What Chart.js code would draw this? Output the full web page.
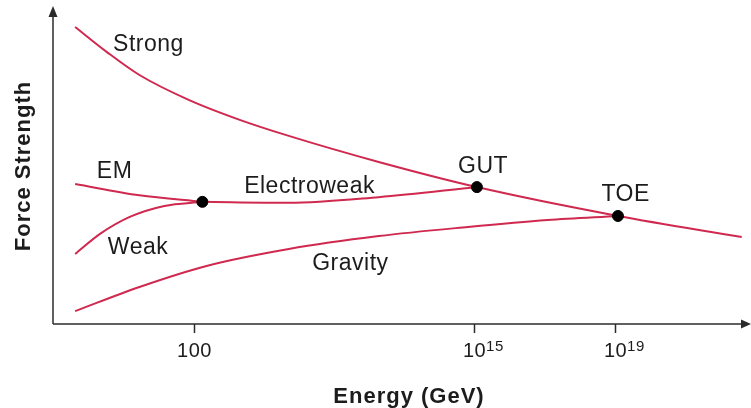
<!DOCTYPE html>
<html>
<head>
<meta charset="utf-8">
<script src="https://cdn.jsdelivr.net/npm/chart.js@4/dist/chart.umd.min.js"></script>
<style>
  html, body { margin: 0; padding: 0; background: #fff; }
  #wrap { width: 751px; height: 408px; }
</style>
</head>
<body>
<div id="wrap"><canvas id="forceChart" width="751" height="408"></canvas></div>
<script>
// Schematic positions: x = energy position along the axis (0-100), y = relative force strength (0-100)
const strongX = [3.2, 7.8, 12.5, 19.7, 26.9, 34.1, 47.1, 61.3, 81.7, 99.6];
const strongY = [94.6, 86.6, 79.3, 71.3, 65.1, 59.9, 51.6, 43.6, 34.4, 27.7];

const emX = [3.2, 12.5, 21.6];
const emY = [44.6, 41.0, 38.9];

const weakX = [3.2, 6.8, 11.1, 16.1, 21.6];
const weakY = [22.3, 28.7, 34.1, 37.6, 38.9];

const electroweakX = [21.6, 34.1, 47.1, 61.3];
const electroweakY = [38.9, 38.6, 40.4, 43.6];

const gravityX = [3.2, 12.5, 22.2, 34.1, 47.1, 60.0, 71.5, 81.7];
const gravityY = [4.1, 11.8, 18.5, 23.9, 28.0, 30.9, 33.1, 34.4];

// unification points: electroweak, GUT, TOE
const unifyX = [21.6, 61.3, 81.7];
const unifyY = [38.9, 43.6, 34.4];

// energy tick positions and labels (base + exponent)
const tickPos = [20.4, 60.9, 81.3];
const tickBase = ["100", "10", "10"];
const tickExp = ["", "15", "19"];

// curve labels: text, centre x, baseline y
const labelText = ["Strong", "EM", "Weak", "Electroweak", "Gravity", "GUT", "TOE"];
const labelX = [13.8, 8.9, 12.3, 37.1, 43.0, 62.2, 82.8];
const labelY = [86.9, 46.5, 22.3, 41.7, 17.2, 48.1, 39.2];

const LINE_COLOR = "#d0294f";
const INK = "#1c1c1c";

function toPoints(xs, ys) {
  return xs.map((x, i) => ({ x: x, y: ys[i] }));
}

function curve(label, xs, ys) {
  return {
    label: label,
    data: toPoints(xs, ys),
    borderColor: LINE_COLOR,
    borderWidth: 2,
    pointRadius: 0,
    fill: false,
    cubicInterpolationMode: "monotone",
    order: 2,
  };
}

// Draws the arrowed axes, tick marks, tick labels, axis titles and curve labels
const sketchPlugin = {
  id: "sketch",
  afterDraw(chart) {
    const ctx = chart.ctx;
    const xs = chart.scales.x;
    const ys = chart.scales.y;
    const left = chart.chartArea.left;
    const bottom = chart.chartArea.bottom;

    ctx.save();
    ctx.strokeStyle = "#2b2b2b";
    ctx.fillStyle = "#2b2b2b";
    ctx.lineWidth = 1.5;

    // x axis with arrow
    ctx.beginPath();
    ctx.moveTo(left, bottom);
    ctx.lineTo(742, bottom);
    ctx.stroke();
    ctx.beginPath();
    ctx.moveTo(751, bottom);
    ctx.lineTo(741, bottom - 4.5);
    ctx.lineTo(741, bottom + 4.5);
    ctx.closePath();
    ctx.fill();

    // y axis with arrow
    ctx.beginPath();
    ctx.moveTo(left, bottom);
    ctx.lineTo(left, 16);
    ctx.stroke();
    ctx.beginPath();
    ctx.moveTo(left, 6);
    ctx.lineTo(left - 4.5, 17);
    ctx.lineTo(left + 4.5, 17);
    ctx.closePath();
    ctx.fill();

    // ticks + labels
    ctx.fillStyle = INK;
    ctx.textBaseline = "alphabetic";
    tickPos.forEach((v, i) => {
      const px = Math.round(xs.getPixelForValue(v)) + 0.5;
      ctx.beginPath();
      ctx.moveTo(px, bottom);
      ctx.lineTo(px, bottom + 9);
      ctx.stroke();

      ctx.font = "20px 'Liberation Sans', Arial, sans-serif";
      ctx.letterSpacing = "0.5px";
      ctx.textAlign = "center";
      ctx.fillText(tickBase[i], px, 357);
      if (tickExp[i]) {
        const w = ctx.measureText(tickBase[i]).width;
        ctx.font = "15px 'Liberation Sans', Arial, sans-serif";
        ctx.textAlign = "left";
        ctx.fillText(tickExp[i], px + w / 2, 351);
      }
    });

    // axis titles
    ctx.font = "bold 22px 'Liberation Sans', Arial, sans-serif";
    ctx.letterSpacing = "1px";
    ctx.textAlign = "center";
    ctx.fillText("Energy (GeV)", 409, 403);

    ctx.save();
    ctx.translate(30, 166);
    ctx.rotate(-Math.PI / 2);
    ctx.fillText("Force Strength", 0, 0);
    ctx.restore();

    // curve labels
    ctx.font = "23px 'Liberation Sans', Arial, sans-serif";
    ctx.letterSpacing = "0.5px";
    ctx.textAlign = "center";
    labelText.forEach((t, i) => {
      ctx.fillText(t, xs.getPixelForValue(labelX[i]), ys.getPixelForValue(labelY[i]));
    });

    ctx.restore();
  },
};

const ctx = document.getElementById("forceChart").getContext("2d");
const forceChart = new Chart(ctx, {
  type: "line",
  data: {
    datasets: [
      curve("Strong", strongX, strongY),
      curve("EM", emX, emY),
      curve("Weak", weakX, weakY),
      curve("Electroweak", electroweakX, electroweakY),
      curve("Gravity", gravityX, gravityY),
      {
        type: "scatter",
        label: "Unification",
        data: toPoints(unifyX, unifyY),
        backgroundColor: "#000",
        borderColor: "#000",
        pointRadius: 5.5,
        order: 1,
      },
    ],
  },
  options: {
    responsive: false,
    devicePixelRatio: 1,
    animation: false,
    layout: { padding: { left: 53, right: 3, top: 10, bottom: 84 } },
    plugins: {
      legend: { display: false },
      tooltip: { enabled: false },
    },
    scales: {
      x: { type: "linear", min: 0, max: 100, display: false },
      y: { type: "linear", min: 0, max: 100, display: false },
    },
  },
  plugins: [sketchPlugin],
});
</script>
</body>
</html>
